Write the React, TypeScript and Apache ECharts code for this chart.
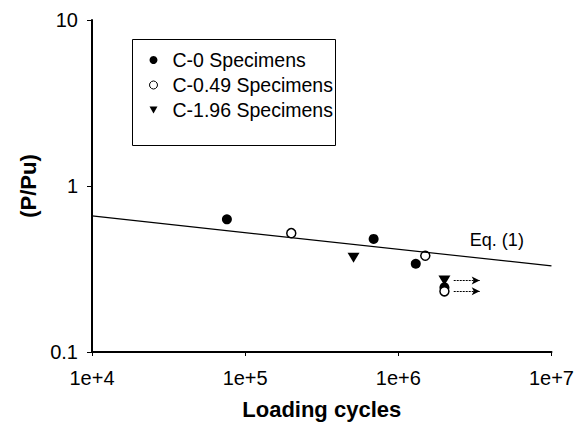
import React, { useEffect, useRef } from "react";
import * as echarts from "echarts";

const c0X = [7.6e4, 6.9e5, 1.3e6, 2.0e6];
const c0Y = [0.63, 0.48, 0.34, 0.245];
const c049X = [2.0e5, 1.5e6, 2.0e6];
const c049Y = [0.52, 0.38, 0.232];
const c196X = [5.1e5, 2.0e6];
const c196Y = [0.37, 0.27];
const eqX = [1e4, 1e7];
const eqY = [0.66, 0.33];
const runoutStartX = 2.3e6;
const runoutEndX = 3.4e6;
const runoutY = [0.27, 0.232];
const eqLabelPos = [4.4e6, 0.47];
const seriesNames = ["C-0 Specimens", "C-0.49 Specimens", "C-1.96 Specimens"];

const FONT = "'Liberation Sans', Arial, sans-serif";
const TRI_DOWN = "path://M0,0 L10,0 L5,9 Z";

export default function App() {
  const ref = useRef<HTMLDivElement>(null);
  useEffect(() => {
    const chart = echarts.init(ref.current!, null, { renderer: "svg" });
    const zip = (xs: number[], ys: number[]) => xs.map((x, i) => [x, ys[i]]);
    chart.setOption({
      animation: false,
      backgroundColor: "#fff",
      textStyle: { fontFamily: FONT, color: "#000" },
      grid: { left: 92, right: 25, top: 20, bottom: 80 },
      graphic: [
        {
          type: "rect",
          left: 130,
          top: 37,
          shape: { width: 203, height: 106 },
          style: { fill: "none", stroke: "#000", lineWidth: 1 },
          z: 10,
        },
      ],
      legend: {
        left: 149,
        top: 50,
        orient: "vertical",
        data: [
          { name: seriesNames[0], icon: "circle", itemStyle: { color: "#000", opacity: 1 } },
          {
            name: seriesNames[1],
            icon: "circle",
            itemStyle: { color: "#fff", borderColor: "#000", borderWidth: 1, opacity: 1 },
          },
          { name: seriesNames[2], icon: TRI_DOWN, itemStyle: { color: "#000", opacity: 1 } },
        ],
        itemWidth: 8,
        itemHeight: 8,
        itemGap: 5,
        padding: 0,
        textStyle: { fontFamily: FONT, fontSize: 19.5, color: "#000", padding: [0, 0, 0, 10], height: 20, lineHeight: 20 },
      },
      xAxis: {
        type: "log",
        logBase: 10,
        min: 1e4,
        max: 1e7,
        name: "Loading cycles",
        nameLocation: "middle",
        nameGap: 46,
        nameTextStyle: { fontFamily: FONT, fontSize: 22, fontWeight: "bold", color: "#000", verticalAlign: "top" },
        axisLine: { lineStyle: { color: "#000", width: 2 } },
        axisTick: { show: true, length: 4, lineStyle: { color: "#000" } },
        minorTick: { show: false },
        splitLine: { show: false },
        axisLabel: {
          fontFamily: FONT,
          fontSize: 20,
          color: "#000",
          margin: 16,
          formatter: (v: number) => "1e+" + Math.round(Math.log10(v)),
        },
      },
      yAxis: {
        type: "log",
        logBase: 10,
        min: 0.1,
        max: 10,
        name: "(P/Pu)",
        nameLocation: "middle",
        nameGap: 50,
        nameRotate: 90,
        nameTextStyle: { fontFamily: FONT, fontSize: 22, fontWeight: "bold", color: "#000" },
        axisLine: { show: true, lineStyle: { color: "#000", width: 2 } },
        axisTick: { show: true, length: 5, lineStyle: { color: "#000" } },
        splitLine: { show: false },
        axisLabel: {
          fontFamily: FONT,
          fontSize: 20,
          color: "#000",
          margin: 14,
          formatter: (v: number) => (v < 1 ? "0.1" : String(Math.round(v))),
        },
      },
      series: [
        {
          name: "Eq",
          type: "line",
          data: zip(eqX, eqY),
          symbol: "none",
          lineStyle: { color: "#000", width: 1.2 },
          silent: true,
          markPoint: {
            symbol: "circle",
            symbolSize: 0,
            data: [{ coord: eqLabelPos }],
            label: {
              show: true,
              formatter: "Eq. (1)",
              fontFamily: FONT,
              fontSize: 18,
              color: "#000",
            },
          },
          markLine: {
            symbol: ["none", "arrow"],
            symbolSize: [6, 8],
            silent: true,
            label: { show: false },
            lineStyle: { color: "#000", width: 1, type: [2, 1] },
            data: runoutY.map((y) => [
              { coord: [runoutStartX, y] },
              { coord: [runoutEndX, y] },
            ]),
          },
        },
        {
          name: seriesNames[0],
          type: "scatter",
          data: zip(c0X, c0Y),
          symbol: "circle",
          symbolSize: 10,
          itemStyle: { color: "#000", opacity: 1 },
        },
        {
          name: seriesNames[1],
          type: "scatter",
          data: zip(c049X, c049Y),
          symbol: "circle",
          symbolSize: 9,
          itemStyle: { color: "#fff", borderColor: "#000", borderWidth: 1.5, opacity: 1 },
        },
        {
          name: seriesNames[2],
          type: "scatter",
          data: zip(c196X, c196Y),
          symbol: TRI_DOWN,
          symbolSize: [12, 10],
          itemStyle: { color: "#000", opacity: 1 },
        },
      ],
    });
    return () => chart.dispose();
  }, []);
  return <div ref={ref} style={{ width: 577, height: 432, position: "absolute", left: 0, top: 0 }} />;
}
